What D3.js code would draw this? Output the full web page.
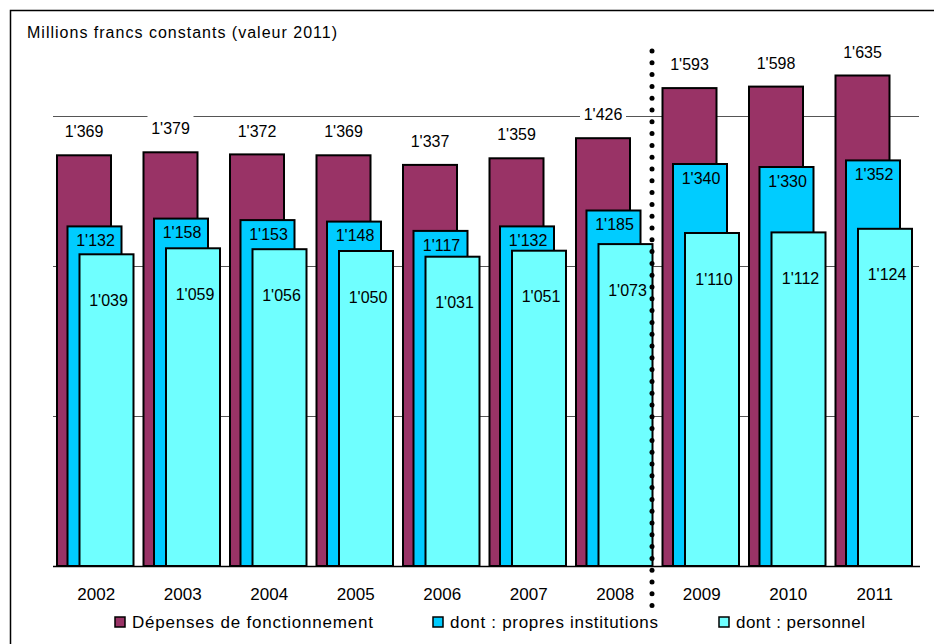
<!DOCTYPE html>
<html>
<head>
<meta charset="utf-8">
<script src="https://cdn.jsdelivr.net/npm/d3@7"></script>
<style>
  html, body { margin: 0; padding: 0; background: #fff; }
  svg { display: block; font-family: "Liberation Sans", Arial, sans-serif; }
</style>
</head>
<body>
<svg id="chart" width="939" height="644"></svg>
<script>
const years = ["2002","2003","2004","2005","2006","2007","2008","2009","2010","2011"];
const depenses = [1369,1379,1372,1369,1337,1359,1426,1593,1598,1635];
const propres = [1132,1158,1153,1148,1117,1132,1185,1340,1330,1352];
const personnel = [1039,1059,1056,1050,1031,1051,1073,1110,1112,1124];
const gridTicks = [500,1000,1500];
const seriesNames = ["Dépenses de fonctionnement","dont : propres institutions","dont : personnel"];
const seriesColors = ["#993366","#00CCFF","#6FFFFF"];
const titleText = "Millions francs constants (valeur 2011)";
const separatorAfter = "2008";

const svg = d3.select("#chart");
const x = d3.scaleBand().domain(years).range([53, 918]).padding(0);
const y = d3.scaleLinear().domain([0, 1800]).range([566, 26]);
const fmt = d3.formatLocale({decimal: ".", thousands: "'", grouping: [3], currency: ["", ""]}).format(",");

// frame
svg.append("path").attr("d", "M10.5,644 V10.5 H934").attr("fill", "none").attr("stroke", "#000").attr("stroke-width", 1.5);

// title
svg.append("text").attr("x", 27).attr("y", 38).attr("font-size", 16)
  .attr("textLength", 310).attr("lengthAdjust", "spacing").text(titleText);

// gridlines
svg.append("g").selectAll("line").data(gridTicks).join("line")
  .attr("x1", 53).attr("x2", 919)
  .attr("y1", d => Math.round(y(d)) + 0.5).attr("y2", d => Math.round(y(d)) + 0.5)
  .attr("stroke", "#555").attr("stroke-width", 1);

const bw = 54;
const offsets = [4, 14.5, 26.5];
const series = [depenses, propres, personnel];

// maroon label backgrounds (white boxes that cut the gridline)
const lblG = svg.append("g");

const barsG = svg.append("g");
years.forEach((yr, i) => {
  series.forEach((s, k) => {
    barsG.append("rect")
      .attr("x", x(yr) + offsets[k]).attr("width", bw)
      .attr("y", y(s[i])).attr("height", y(0) - y(s[i]))
      .attr("fill", seriesColors[k]).attr("stroke", "#000").attr("stroke-width", 2);
  });
});

// baseline
svg.append("line").attr("x1", 53).attr("x2", 920).attr("y1", y(0) + 0.5).attr("y2", y(0) + 0.5)
  .attr("stroke", "#000").attr("stroke-width", 1.5);

// labels
const labG = svg.append("g").attr("font-size", 16).attr("text-anchor", "middle");
years.forEach((yr, i) => {
  const cx0 = x(yr) + offsets[0] + bw / 2;
  const cy0 = y(depenses[i]) - 23.5;
  lblG.append("rect").attr("x", cx0 - 23).attr("y", cy0 - 13.5).attr("width", 46).attr("height", 27).attr("fill", "#fff");
  labG.append("text").attr("x", cx0).attr("y", cy0).attr("dy", "0.35em").text(fmt(depenses[i]));
  labG.append("text").attr("x", x(yr) + offsets[1] + bw / 2 + 1).attr("y", y(propres[i]) + 14).attr("dy", "0.35em").text(fmt(propres[i]));
  labG.append("text").attr("x", x(yr) + offsets[2] + bw / 2 + 2).attr("y", y(personnel[i]) + 46).attr("dy", "0.35em").text(fmt(personnel[i]));
});

// x labels
svg.append("g").attr("font-size", 17).attr("text-anchor", "middle")
  .selectAll("text").data(years).join("text")
  .attr("x", d => x(d) + x.bandwidth() / 2).attr("y", 600).text(d => d);

// dotted separator
const sepX = x(separatorAfter) + x.bandwidth() - 6.5;
const dots = d3.range(51, 606, 11.8);
svg.append("g").selectAll("circle").data(dots).join("circle")
  .attr("cx", sepX).attr("cy", d => d).attr("r", 2.5).attr("fill", "#000");

// legend
const legX = [115, 433, 719];
const legLen = [241, 208, 129];
const leg = svg.append("g");
seriesNames.forEach((n, k) => {
  leg.append("rect").attr("x", legX[k]).attr("y", 617).attr("width", 10).attr("height", 10)
    .attr("fill", seriesColors[k]).attr("stroke", "#000").attr("stroke-width", 1.5);
  leg.append("text").attr("x", legX[k] + 17).attr("y", 628).attr("font-size", 17)
    .attr("textLength", legLen[k]).attr("lengthAdjust", "spacing").text(n);
});
</script>
</body>
</html>
